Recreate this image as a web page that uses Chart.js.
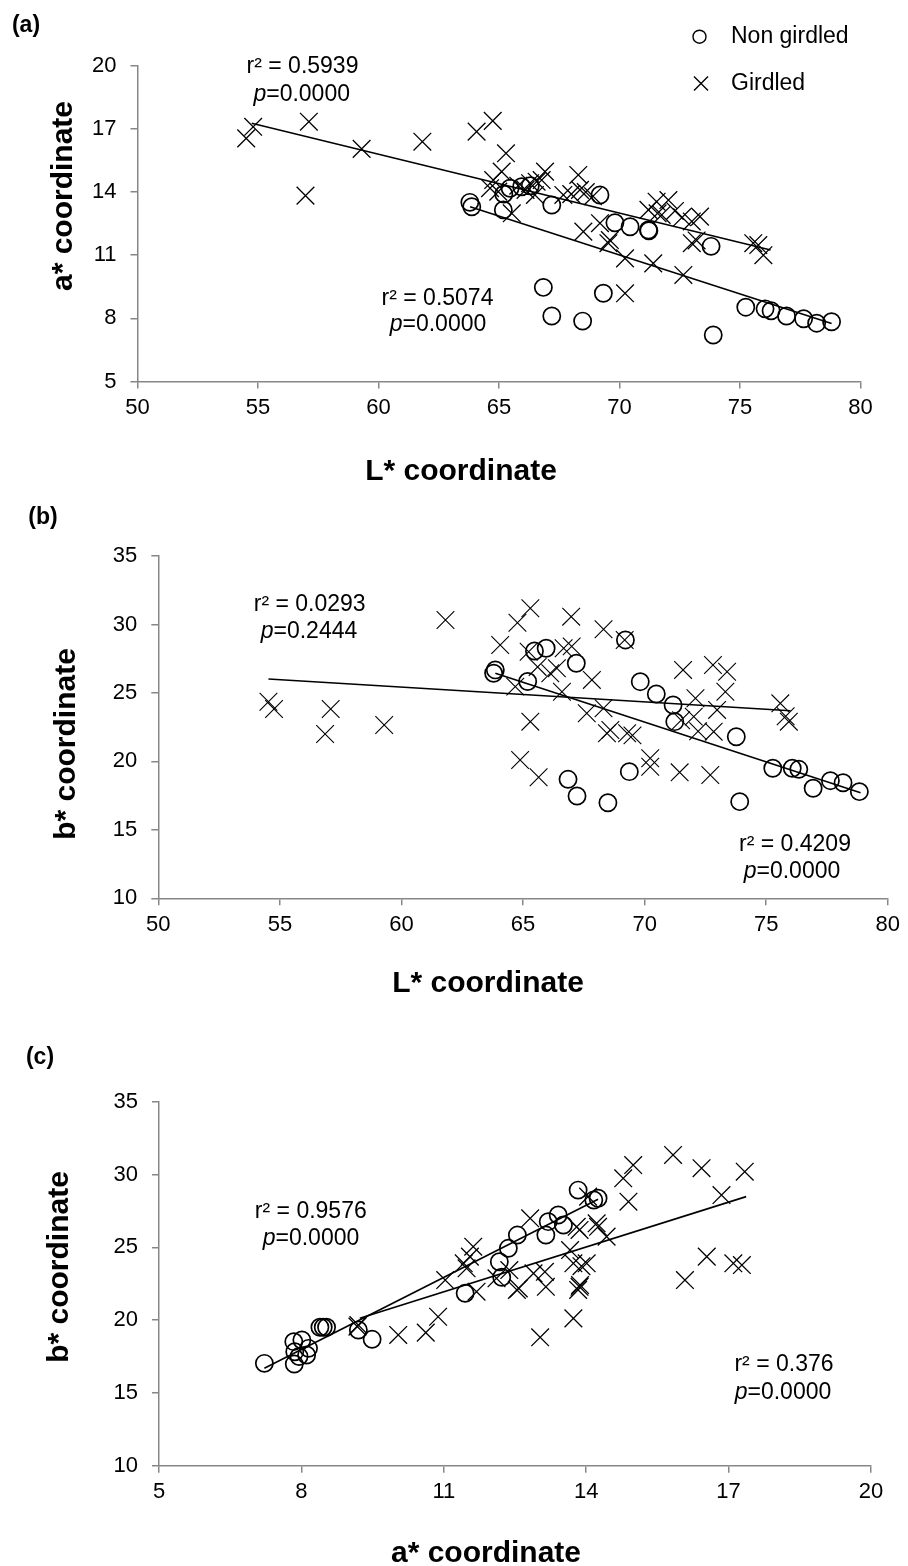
<!DOCTYPE html>
<html><head><meta charset="utf-8">
<script src="https://cdn.jsdelivr.net/npm/chart.js@4.4.0/dist/chart.umd.min.js"></script>
<style>
html,body{margin:0;padding:0;background:#fff;}
#wrap{position:relative;width:908px;height:1566px;overflow:hidden;}
canvas{position:absolute;left:0;}
</style></head><body>
<div id="wrap">
<canvas id="cA" width="908" height="480" style="top:0px"></canvas>
<canvas id="cB" width="908" height="520" style="top:480px"></canvas>
<canvas id="cC" width="908" height="566" style="top:1000px"></canvas>
</div>
<script>
// ===== Series names =====
const seriesNames = ['Non girdled', 'Girdled'];

// ===== Panel (a): L* vs a* =====
const aNonL = [63.79,63.87,65.18,65.20,65.46,65.94,66.30,67.19,69.19,69.81,70.44,71.20,71.22,73.80,66.84,67.19,68.47,69.33,73.89,75.24,76.04,76.29,76.93,77.64,78.18,78.80];
const aNonA = [13.51,13.30,13.15,13.90,14.18,14.25,14.30,13.38,13.86,12.54,12.35,12.20,12.16,11.42,9.47,8.11,7.87,9.19,7.21,8.53,8.45,8.36,8.11,7.98,7.77,7.84];
const aGirL = [54.51,54.80,57.11,56.97,59.30,61.82,64.07,64.74,65.29,65.11,64.76,64.63,64.97,65.53,65.80,66.10,66.29,66.49,66.56,66.91,66.77,67.67,68.00,68.29,68.36,68.60,68.90,68.50,69.19,69.54,69.60,70.23,71.40,72.65,70.23,71.20,71.54,71.58,72.03,71.75,72.30,72.60,73.00,73.34,73.00,73.20,75.55,75.76,75.97];
const aGirA = [16.55,17.10,17.34,13.83,16.05,16.39,16.87,17.38,15.84,14.97,14.57,14.18,14.02,12.99,14.30,14.10,14.42,13.86,14.49,14.97,14.57,13.86,13.90,14.81,14.10,14.00,13.80,12.12,12.52,11.57,11.72,10.85,10.61,10.06,9.19,13.15,13.54,12.99,13.62,12.91,13.10,12.80,12.60,12.83,11.57,11.70,11.57,11.48,11.00];
const aTrendNonL = [63.80, 78.80];
const aTrendNonA = [13.30, 7.76];
const aTrendGirL = [54.74, 76.27];
const aTrendGirA = [17.27, 11.25];
const aStats = [['r² = 0.5939', '0.0000'], ['r² = 0.5074', '0.0000']];

// ===== Panel (b): L* vs b* =====
const bNonL = [63.86,63.79,65.19,65.47,65.95,67.19,69.21,69.82,70.48,71.17,71.24,73.77,66.85,67.22,68.49,69.37,73.91,75.27,76.07,76.34,76.93,77.64,78.16,78.83];
const bNonB = [26.68,26.44,25.83,28.06,28.26,27.17,28.87,25.82,24.92,24.12,22.90,21.80,18.69,17.47,16.98,19.25,17.06,19.50,19.50,19.42,18.04,18.59,18.44,17.79];
const bGirL = [54.53,54.76,57.09,56.86,59.29,61.81,65.30,64.77,66.98,68.31,69.18,64.06,65.23,66.67,66.39,66.12,67.83,64.68,66.60,65.30,67.62,68.31,68.59,68.45,69.28,69.50,64.88,65.64,70.23,70.23,71.44,72.70,71.58,72.81,73.39,73.32,72.09,72.98,72.02,72.84,72.20,75.58,75.93,75.80,71.50,67.00,65.60];
const bGirB = [24.36,23.83,23.83,22.00,22.66,30.33,31.18,30.13,30.57,29.65,28.87,28.50,28.01,28.26,26.80,26.44,25.95,25.46,25.09,22.90,23.51,23.88,22.29,22.05,22.05,21.90,20.10,18.84,20.23,19.61,19.20,19.00,26.68,27.04,26.55,25.09,24.61,23.76,23.27,22.17,22.20,24.24,22.90,23.30,23.00,28.40,26.90];
const bTrendNonL = [63.86, 78.88];
const bTrendNonB = [26.44, 17.71];
const bTrendGirL = [54.53, 76.00];
const bTrendGirB = [26.02, 23.70];
const bStats = [['r² = 0.0293', '0.2444'], ['r² = 0.4209', '0.0000']];

// ===== Panel (c): a* vs b* =====
const cNonA = [7.22,7.85,7.86,7.84,8.01,8.11,8.15,7.95,8.39,8.46,8.53,9.20,9.49,11.45,12.17,12.22,12.36,12.55,13.15,13.20,13.41,13.52,13.83,14.16,14.25];
const cNonB = [17.03,16.98,17.83,18.52,18.63,17.60,18.06,17.50,19.51,19.51,19.51,19.32,18.68,21.84,24.01,22.94,24.93,25.84,25.84,26.76,27.22,26.53,28.93,28.25,28.37];
const cGirA = [9.18,9.20,10.04,10.62,10.88,13.03,13.73,11.03,11.48,11.62,11.55,11.69,12.11,12.38,12.54,12.82,12.89,13.13,13.15,13.66,13.73,14.01,13.83,13.87,13.80,14.25,14.43,14.04,14.89,14.78,14.99,15.83,16.43,16.85,17.34,16.54,16.08,17.10,17.28,11.42,12.58,13.86,14.22,13.90,13.86];
const cGirB = [19.55,19.66,18.98,19.14,20.23,18.82,20.12,22.75,23.56,25.04,24.36,21.95,22.87,23.44,22.07,26.99,23.21,23.32,22.29,24.81,23.90,23.90,22.07,22.41,26.41,26.41,25.73,28.48,28.13,29.74,30.65,31.34,30.43,28.59,30.19,24.36,22.75,23.90,23.78,23.90,22.18,26.19,26.65,23.70,22.29];
const cTrendNonA = [7.22, 14.25];
const cTrendNonB = [16.69, 28.30];
const cTrendGirA = [9.23, 17.37];
const cTrendGirB = [20.12, 28.48];
const cStats = [['r² = 0.9576', '0.0000'], ['r² = 0.376', '0.0000']];

// ===== helpers =====
const FONT = '"Liberation Sans", Arial, Helvetica, sans-serif';
const AXIS_GRAY = '#878787';
function pts(xs, ys) { return xs.map((x, i) => ({x: x, y: ys[i]})); }

function drawStat(c, stat, pos) {
  c.font = '23px ' + FONT;
  c.textAlign = 'center';
  c.textBaseline = 'middle';
  c.fillText(stat[0], pos[0], pos[1]);
  const it = 'italic 23px ' + FONT, rg = '23px ' + FONT;
  c.font = it; const w1 = c.measureText('p').width;
  c.font = rg; const w2 = c.measureText('=' + stat[1]).width;
  const x0 = pos[2] - (w1 + w2) / 2;
  c.textAlign = 'left';
  c.font = it; c.fillText('p', x0, pos[3]);
  c.font = rg; c.fillText('=' + stat[1], x0 + w1, pos[3]);
}

function textPlugin(s) {
  return {
    id: 'txt' + s.panel,
    afterDraw(chart) {
      const c = chart.ctx;
      c.save();
      c.fillStyle = '#000';
      // panel label
      c.font = 'bold 23px ' + FONT;
      c.textAlign = 'center'; c.textBaseline = 'middle';
      c.fillText(s.panel, s.panelPos[0], s.panelPos[1]);
      // x title
      c.font = 'bold 30px ' + FONT;
      c.textBaseline = 'alphabetic';
      c.fillText(s.xTitle, s.xTitlePos[0], s.xTitlePos[1]);
      // y title
      c.save();
      c.translate(s.yTitlePos[0], s.yTitlePos[1]);
      c.rotate(-Math.PI / 2);
      c.textBaseline = 'middle';
      c.fillText(s.yTitle, 0, 0);
      c.restore();
      // stats
      s.stats.forEach((st, i) => drawStat(c, st, s.statPos[i]));
      // legend
      if (s.legend) {
        const L = s.legend;
        c.strokeStyle = '#000';
        c.lineWidth = 1.4;
        c.beginPath(); c.arc(L.circle[0], L.circle[1], 6.5, 0, Math.PI * 2); c.stroke();
        const d = 7;
        c.beginPath();
        c.moveTo(L.cross[0] - d, L.cross[1] - d); c.lineTo(L.cross[0] + d, L.cross[1] + d);
        c.moveTo(L.cross[0] - d, L.cross[1] + d); c.lineTo(L.cross[0] + d, L.cross[1] - d);
        c.stroke();
        c.font = '23px ' + FONT;
        c.textAlign = 'left'; c.textBaseline = 'middle';
        c.fillText(seriesNames[0], L.textX, L.circle[1]);
        c.fillText(seriesNames[1], L.textX, L.cross[1]);
      }
      c.restore();
    }
  };
}

function makeChart(id, s) {
  const tickFont = {family: FONT, size: 22};
  return new Chart(document.getElementById(id), {
    type: 'scatter',
    data: {
      datasets: [
        {label: 'trend ' + seriesNames[0], data: pts(s.tNx, s.tNy), showLine: true, borderColor: '#000', borderWidth: 1.6, pointRadius: 0, fill: false},
        {label: 'trend ' + seriesNames[1], data: pts(s.tGx, s.tGy), showLine: true, borderColor: '#000', borderWidth: 1.6, pointRadius: 0, fill: false},
        {label: seriesNames[0], data: pts(s.nx, s.ny), pointStyle: 'circle', pointRadius: 8.6, pointBorderWidth: 1.7, pointBorderColor: '#000', pointBackgroundColor: 'rgba(0,0,0,0)', borderColor: '#000'},
        {label: seriesNames[1], data: pts(s.gx, s.gy), pointStyle: 'crossRot', pointRadius: 12.5, pointBorderWidth: s.crossW, pointBorderColor: '#000', borderColor: '#000'}
      ]
    },
    options: {
      responsive: false, animation: false, devicePixelRatio: 1, events: [],
      layout: {padding: {left: 0, top: s.area.top, right: 908 - s.area.right, bottom: 0}},
      plugins: {legend: {display: false}, tooltip: {enabled: false}, title: {display: false}},
      scales: {
        x: {
          type: 'linear', position: 'bottom', min: s.xMin, max: s.xMax,
          ticks: {stepSize: s.xStep, font: tickFont, color: '#000', padding: 6, maxRotation: 0, autoSkip: false},
          grid: {drawOnChartArea: false, drawTicks: true, tickLength: 7, color: AXIS_GRAY, lineWidth: 1.5},
          border: {display: true, color: AXIS_GRAY, width: 1.5},
          afterFit(sc) { sc.height = s.H - s.area.bottom; }
        },
        y: {
          type: 'linear', position: 'left', min: s.yMin, max: s.yMax,
          ticks: {stepSize: s.yStep, font: tickFont, color: '#000', padding: 14, autoSkip: false},
          grid: {drawOnChartArea: false, drawTicks: true, tickLength: 7, color: AXIS_GRAY, lineWidth: 1.5},
          border: {display: true, color: AXIS_GRAY, width: 1.5},
          afterFit(sc) { sc.width = s.area.left; }
        }
      }
    },
    plugins: [textPlugin(s)]
  });
}

makeChart('cA', {
  panel: '(a)', panelPos: [26, 26], H: 480,
  area: {left: 137.5, right: 860.5, top: 65.7, bottom: 381.5},
  xMin: 50, xMax: 80, xStep: 5, yMin: 5, yMax: 20, yStep: 3,
  nx: aNonL, ny: aNonA, gx: aGirL, gy: aGirA,
  tNx: aTrendNonL, tNy: aTrendNonA, tGx: aTrendGirL, tGy: aTrendGirA,
  crossW: 1.3,
  xTitle: 'L* coordinate', xTitlePos: [461, 480],
  yTitle: 'a* coordinate', yTitlePos: [64, 196],
  stats: aStats, statPos: [[302.5, 66.7, 301.7, 95], [437.5, 298.3, 438, 324.3]],
  legend: {circle: [699.5, 36.7], cross: [701, 83.5], textX: 731}
});

makeChart('cB', {
  panel: '(b)', panelPos: [43, 38], H: 520,
  area: {left: 158.3, right: 887.8, top: 76, bottom: 418.3},
  xMin: 50, xMax: 80, xStep: 5, yMin: 10, yMax: 35, yStep: 5,
  nx: bNonL, ny: bNonB, gx: bGirL, gy: bGirB,
  tNx: bTrendNonL, tNy: bTrendNonB, tGx: bTrendGirL, tGy: bTrendGirB,
  crossW: 1.1,
  xTitle: 'L* coordinate', xTitlePos: [488, 512],
  yTitle: 'b* coordinate', yTitlePos: [67, 264],
  stats: bStats, statPos: [[309.7, 125, 309, 151.7], [795, 365, 792, 391.7]]
});

makeChart('cC', {
  panel: '(c)', panelPos: [40, 58], H: 566,
  area: {left: 159, right: 871, top: 101.7, bottom: 465.7},
  xMin: 5, xMax: 20, xStep: 3, yMin: 10, yMax: 35, yStep: 5,
  nx: cNonA, ny: cNonB, gx: cGirA, gy: cGirB,
  tNx: cTrendNonA, tNy: cTrendNonB, tGx: cTrendGirA, tGy: cTrendGirB,
  crossW: 1.3,
  xTitle: 'a* coordinate', xTitlePos: [486, 562],
  yTitle: 'b* coordinate', yTitlePos: [60, 267],
  stats: cStats, statPos: [[310.8, 211.7, 311, 238.3], [784, 365, 783, 392.7]]
});
</script>
</body></html>
